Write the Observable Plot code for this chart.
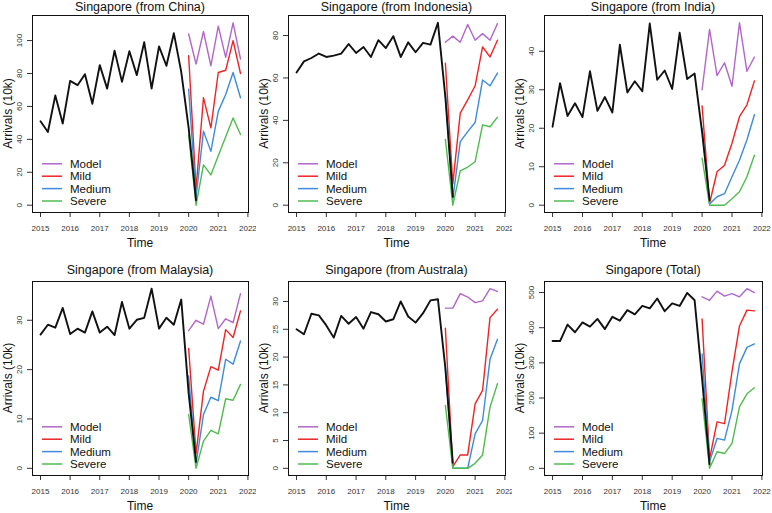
<!DOCTYPE html>
<html><head><meta charset="utf-8">
<script src="https://cdn.jsdelivr.net/npm/d3@7"></script>
<script src="https://cdn.jsdelivr.net/npm/@observablehq/plot@0.6"></script>
<style>
body{margin:0;background:#fff;}
#grid{position:relative;width:772px;height:513px;background:#fff;}
#grid > svg{position:absolute;}
</style></head><body><div id="grid"></div>
<script>
// ---- data ----
const yearTicks = [2015, 2016, 2017, 2018, 2019, 2020, 2021, 2022];
const histTime = [2015, 2015.25, 2015.5, 2015.75, 2016, 2016.25, 2016.5, 2016.75, 2017, 2017.25, 2017.5, 2017.75,
  2018, 2018.25, 2018.5, 2018.75, 2019, 2019.25, 2019.5, 2019.75, 2020, 2020.25];
const fcTime = [2020, 2020.25, 2020.5, 2020.75, 2021, 2021.25, 2021.5, 2021.75];
const scenarios = ["Model", "Mild", "Medium", "Severe"];
const scenarioColors = ["#b067c8", "#ee2424", "#3d8bd9", "#4fbb4f"];
const titles = ["Singapore (from China)", "Singapore (from Indonesia)", "Singapore (from India)",
  "Singapore (from Malaysia)", "Singapore (from Australa)", "Singapore (Total)"];
const yLabel = "Arrivals (10k)";
const xLabel = "Time";

const chinaTicks = [0, 20, 40, 60, 80, 100];
const chinaHist = [51, 44.5, 66.7, 49.6, 75.5, 72.9, 79.6, 61.6, 85.1, 70.8, 93.9, 74.9, 93.5, 79, 99, 70.8, 96.5, 84.7, 104.5, 81, 47, 3];
const chinaModel = [104, 85.7, 105.5, 84.7, 108.8, 89.8, 110.8, 88.8];
const chinaMild = [90.8, 10, 65.3, 47, 80.6, 82, 100, 80];
const chinaMedium = [70.4, 5, 45, 32.7, 57, 67.3, 80.6, 65.3];
const chinaSevere = [42.9, 0, 24.5, 18.4, 30, 41.6, 53, 42.9];

const indonesiaTicks = [0, 20, 40, 60, 80];
const indonesiaHist = [62.6, 67.8, 69.4, 71.5, 69.9, 70.5, 71.5, 76, 71.8, 74.6, 69.9, 77.8, 74.1, 79.7, 69.9, 76.8, 72.1, 76.5, 75.7, 86, 51, 4];
const indonesiaModel = [76.8, 79.7, 76.8, 85.2, 77.8, 80.9, 77.8, 85.6];
const indonesiaMild = [67, 10, 43.4, 49.7, 56.3, 74.6, 69.9, 77.8];
const indonesiaMedium = [52, 3, 30, 34.7, 39, 59, 56.3, 62.3];
const indonesiaSevere = [31, 0, 16.2, 18, 20.5, 37.9, 37, 41.5];

const indiaTicks = [0, 10, 20, 30, 40];
const indiaHist = [20.4, 31.7, 23.2, 26.5, 22.9, 34.8, 24.5, 28.1, 24.1, 41.7, 29.3, 32.2, 29.6, 47.2, 32.6, 35, 30.2, 44.8, 32.8, 34.2, 19, 1.3];
const indiaModel = [30, 45.7, 33.7, 37, 30.9, 47.4, 34.8, 38.5];
const indiaMild = [25.8, 0.5, 8.7, 10.4, 16.1, 23, 26.1, 32.3];
const indiaMedium = [20, 0.3, 2.2, 3, 7.4, 11.7, 17, 23.5];
const indiaSevere = [12.2, 0, 0, 0, 1.7, 3.5, 7.4, 13];

const malaysiaTicks = [0, 10, 20, 30];
const malaysiaHist = [27.1, 29.1, 28.5, 32.5, 27.2, 28.3, 27.5, 31.8, 27.5, 28.7, 27, 33.7, 28.3, 30.1, 30.5, 36.4, 28.3, 30.5, 29.1, 34.2, 15.2, 1.3];
const malaysiaModel = [27.9, 30, 29.2, 34.9, 28.3, 30.3, 29.5, 35.4];
const malaysiaMild = [24.3, 3, 15.6, 20.6, 19.9, 28.1, 26.5, 31.9];
const malaysiaMedium = [18.7, 1, 10.9, 14.4, 13.7, 22.1, 21.1, 25.8];
const malaysiaSevere = [10.9, 0, 5.5, 7.7, 7, 14.1, 13.8, 17];

const australiaTicks = [0, 5, 10, 15, 20, 25, 30];
const australiaHist = [25, 24.1, 27.8, 27.5, 25.7, 23.5, 27.4, 26, 27.2, 25.1, 28.1, 27.7, 26.4, 26.8, 30, 27.3, 26.2, 27.9, 30.2, 30.4, 18, 1];
const australiaModel = [28.8, 28.8, 31.4, 30.8, 29.8, 30.1, 32.3, 31.8];
const australiaMild = [25.2, 0.3, 2.4, 2.4, 11.6, 14, 27.1, 28.6];
const australiaMedium = [18, 0, 0, 0, 6.2, 8.6, 19.6, 23.2];
const australiaSevere = [11.3, 0, 0, 0, 0.9, 2.4, 11, 15.2];

const totalTicks = [0, 100, 200, 300, 400, 500];
const totalHist = [362, 362, 409, 387, 415, 403, 425, 396, 431, 420, 450, 438, 462, 455, 483, 447, 469, 462, 499, 478, 255, 12];
const totalModel = [488, 478, 504, 490, 497, 488, 511, 500];
const totalMild = [425, 27, 132, 127, 275, 405, 450, 448];
const totalMedium = [325, 19, 85, 80, 165, 297, 344, 354];
const totalSevere = [198, 0, 47, 42, 71, 175, 212, 229];

// ---- panels ----
const panels = [
  {title: titles[0], ticks: chinaTicks, hist: chinaHist, fc: [chinaModel, chinaMild, chinaMedium, chinaSevere]},
  {title: titles[1], ticks: indonesiaTicks, hist: indonesiaHist, fc: [indonesiaModel, indonesiaMild, indonesiaMedium, indonesiaSevere]},
  {title: titles[2], ticks: indiaTicks, hist: indiaHist, fc: [indiaModel, indiaMild, indiaMedium, indiaSevere]},
  {title: titles[3], ticks: malaysiaTicks, hist: malaysiaHist, fc: [malaysiaModel, malaysiaMild, malaysiaMedium, malaysiaSevere]},
  {title: titles[4], ticks: australiaTicks, hist: australiaHist, fc: [australiaModel, australiaMild, australiaMedium, australiaSevere]},
  {title: titles[5], ticks: totalTicks, hist: totalHist, fc: [totalModel, totalMild, totalMedium, totalSevere]}
];

const FONT = "Liberation Sans, Arial, Helvetica, sans-serif";
const colLeft = [0, 256, 512], colWidth = [256, 256, 260], colMR = [8, 7, 10];
const rowTop = [0, 258], rowHeight = [258, 255], rowMT = [15, 23], rowMB = [46, 38], rowTitleY = [7, 12];

function makePanel(p, col, row) {
  const width = colWidth[col], height = rowHeight[row];
  const ml = 32, mr = colMR[col], mt = rowMT[row], mb = rowMB[row];
  const hist = histTime.map((t, i) => ({t, v: p.hist[i]}));
  const fc = [];
  scenarios.forEach((s, k) => fcTime.forEach((t, i) => fc.push({t, v: p.fc[k][i], s})));
  const [lo, hi] = d3.extent(hist.concat(fc), d => d.v);
  const pad = (hi - lo) * 0.04;
  const [t0, t1] = d3.extent(histTime.concat(fcTime));
  const xpad = (t1 - t0) * 0.04;
  const decor = () => {
    const g = d3.create("svg:g").attr("font-family", FONT).attr("fill", "#111");
    const cx = ml + (width - ml - mr) / 2;
    const fb = height - mb;
    g.append("text").attr("x", cx).attr("y", rowTitleY[row]).attr("dy", "0.35em")
      .attr("text-anchor", "middle").attr("font-size", 12.5).text(p.title);
    g.append("text").attr("x", cx).attr("y", fb + 31).attr("dy", "0.35em")
      .attr("text-anchor", "middle").attr("font-size", 12).text(xLabel);
    g.append("text").attr("transform", `translate(8,${mt + (fb - mt) / 2}) rotate(-90)`).attr("dy", "0.35em")
      .attr("text-anchor", "middle").attr("font-size", 12).text(yLabel);
    scenarios.forEach((s, i) => {
      const y = fb - 11 - (3 - i) * 12.4;
      g.append("line").attr("x1", ml + 10).attr("x2", ml + 30).attr("y1", y).attr("y2", y)
        .attr("stroke", scenarioColors[i]).attr("stroke-width", 1.5);
      g.append("text").attr("x", ml + 38).attr("y", y).attr("dy", "0.35em")
        .attr("text-anchor", "start").attr("font-size", 11.5).text(s);
    });
    return g.node();
  };
  const svg = Plot.plot({
    width, height, marginLeft: ml, marginRight: mr, marginTop: mt, marginBottom: mb,
    x: {domain: [t0 - xpad, t1 + xpad]},
    y: {domain: [lo - pad, hi + pad]},
    color: {domain: scenarios, range: scenarioColors},
    style: {fontFamily: FONT, color: "#333", background: "white", overflow: "visible"},
    marks: [
      Plot.axisX({ticks: yearTicks, tickFormat: d => String(d), tickSize: 5, tickPadding: 8, fontSize: 8, label: null}),
      Plot.axisY({ticks: p.ticks, tickFormat: d => String(d), tickSize: 5, tickPadding: 6, tickRotate: -90, fontSize: 8, label: null}),
      Plot.lineY(fc, {x: "t", y: "v", stroke: "s", z: "s", strokeWidth: 1.4}),
      Plot.lineY(hist, {x: "t", y: "v", stroke: "#111", strokeWidth: 1.9}),
      Plot.frame({stroke: "#111", strokeWidth: 1}),
      decor
    ]
  });
  svg.style.left = colLeft[col] + "px";
  svg.style.top = rowTop[row] + "px";
  return svg;
}

const grid = document.getElementById("grid");
panels.forEach((p, i) => grid.appendChild(makePanel(p, i % 3, Math.floor(i / 3))));
</script>
</body></html>
